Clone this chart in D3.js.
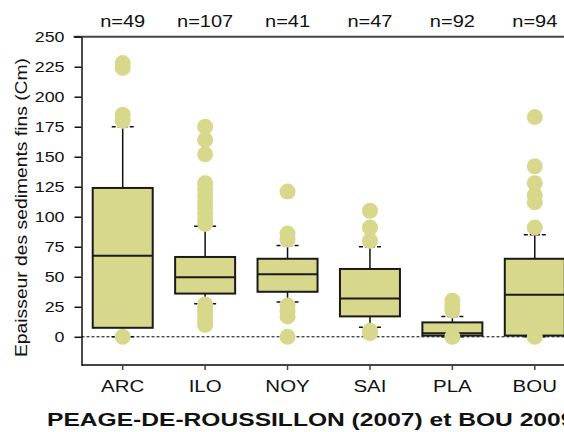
<!DOCTYPE html>
<html><head><meta charset="utf-8">
<script src="https://cdn.jsdelivr.net/npm/d3@7"></script>
<style>html,body{margin:0;padding:0;background:#fff;}svg{display:block;}</style>
</head><body>
<script>
const categories = ["ARC","ILO","NOY","SAI","PLA","BOU"];
const counts = [49,107,41,47,92,94];
const whiskerLow = [0, 27.5, 29, 8, 0, 0];
const q1 = [7.5, 36, 37.5, 17, 1, 1];
const median = [67.5, 49.5, 52, 32, 3, 35];
const q3 = [124, 66.5, 65, 56.5, 12, 65];
const whiskerHigh = [175, 92, 76, 75, 17, 85];
const outliers = [
  [0, 180, 185, 224, 228],
  [10, 13, 17, 21, 25, 27, 94, 98, 103, 108, 113, 118, 123, 128, 152, 164, 175],
  [0, 17, 21, 26, 81, 86, 121],
  [3, 5, 80, 91, 105],
  [0, 22, 26, 30],
  [0, 91, 112, 118, 128, 142, 183]
];
const yTicks = [0, 25, 50, 75, 100, 125, 150, 175, 200, 225, 250];
const yLabel = "Epaisseur des sediments fins (Cm)";
const title = "PEAGE-DE-ROUSSILLON (2007) et BOU 2009";

const W = 564, H = 432;
const fill = "#d7d88b";
const svg = d3.select("body").append("svg").attr("width", W).attr("height", H)
  .style("font-family", "'Liberation Sans', Arial, sans-serif");

const plotLeft = 81.5, plotTop = 36.7, plotBottom = 365;
const x = d3.scaleBand().domain(categories).range([plotLeft, 576]);
const y = d3.scaleLinear().domain([-23.5, 250]).range([plotBottom, plotTop]);
const boxW = 60, capW = 22;

// frame lines
svg.append("line").attr("x1", plotLeft - 8).attr("x2", W).attr("y1", y(250)).attr("y2", y(250))
  .attr("stroke", "#444").attr("stroke-width", 2);
svg.append("line").attr("x1", plotLeft).attr("x2", W).attr("y1", plotBottom).attr("y2", plotBottom)
  .attr("stroke", "#444").attr("stroke-width", 2);

// y axis
const ya = svg.append("g").attr("transform", `translate(${plotLeft},0)`)
  .call(d3.axisLeft(y).tickValues(yTicks).tickSize(7).tickSizeOuter(0));
ya.select(".domain").attr("stroke", "#111").attr("stroke-width", 1.5);
ya.selectAll(".tick line").attr("stroke", "#111").attr("stroke-width", 1.5);
ya.selectAll(".tick text").attr("x", 0).attr("fill", "#111").style("font-size", "15.5px")
  .attr("transform", "translate(-17,0) scale(1.15,1)");

// x axis
const xa = svg.append("g").attr("transform", `translate(0,${plotBottom})`)
  .call(d3.axisBottom(x).tickSize(5).tickSizeOuter(0));
xa.select(".domain").remove();
xa.selectAll(".tick line").attr("stroke", "#444").attr("stroke-width", 1.5);
xa.selectAll(".tick text").attr("y", 0).attr("dy", 0).attr("fill", "#111").style("font-size", "16px")
  .attr("transform", "translate(0,27) scale(1.28,1)");

// zero reference line
svg.append("line").attr("x1", plotLeft).attr("x2", W).attr("y1", y(0)).attr("y2", y(0))
  .attr("stroke", "#000").attr("stroke-width", 1).attr("stroke-dasharray", "3,2");

const data = categories.map((c, i) => ({
  c, lo: whiskerLow[i], q1: q1[i], med: median[i], q3: q3[i], hi: whiskerHigh[i], out: outliers[i], n: counts[i]
}));
const cx = d => x(d.c) + x.bandwidth() / 2;

const g = svg.append("g").selectAll("g").data(data).join("g");
// whiskers
g.append("line").attr("x1", cx).attr("x2", cx).attr("y1", d => y(d.q3)).attr("y2", d => y(d.hi))
  .attr("stroke", "#111").attr("stroke-width", 1.5);
g.append("line").attr("x1", cx).attr("x2", cx).attr("y1", d => y(d.q1)).attr("y2", d => y(d.lo))
  .attr("stroke", "#111").attr("stroke-width", 1.5);
g.append("line").attr("x1", d => cx(d) - capW / 2).attr("x2", d => cx(d) + capW / 2)
  .attr("y1", d => y(d.hi)).attr("y2", d => y(d.hi)).attr("stroke", "#111").attr("stroke-width", 1.5)
  .attr("stroke-dasharray", "4,2");
g.append("line").attr("x1", d => cx(d) - capW / 2).attr("x2", d => cx(d) + capW / 2)
  .attr("y1", d => y(d.lo)).attr("y2", d => y(d.lo)).attr("stroke", "#111").attr("stroke-width", 1.5)
  .attr("stroke-dasharray", "4,2");
// boxes
g.append("rect").attr("x", d => cx(d) - boxW / 2).attr("width", boxW)
  .attr("y", d => y(d.q3)).attr("height", d => y(d.q1) - y(d.q3))
  .attr("fill", fill).attr("stroke", "#1a1a1a").attr("stroke-width", 2);
g.append("line").attr("x1", d => cx(d) - boxW / 2).attr("x2", d => cx(d) + boxW / 2)
  .attr("y1", d => y(d.med)).attr("y2", d => y(d.med)).attr("stroke", "#1a1a1a").attr("stroke-width", 2);
// outliers
g.selectAll("circle").data(d => d.out.map(v => ({ v, cx: cx(d) }))).join("circle")
  .attr("cx", d => d.cx).attr("cy", d => y(d.v)).attr("r", 8).attr("fill", fill);

// n labels
svg.append("g").selectAll("text").data(data).join("text")
  .attr("transform", d => `translate(${cx(d)},27) scale(1.25,1)`)
  .attr("text-anchor", "middle").style("font-size", "16px").attr("fill", "#111")
  .text(d => "n=" + d.n);

// y label
svg.append("text").attr("transform", "translate(26.5,207.5) rotate(-90) scale(1.17,1)")
  .attr("text-anchor", "middle").style("font-size", "16.5px").attr("fill", "#111").text(yLabel);

// title
svg.append("text").attr("transform", "translate(47,426) scale(1.33,1)")
  .attr("text-anchor", "start").style("font-size", "18.5px").style("font-weight", "bold")
  .attr("fill", "#111").text(title);
</script>
</body></html>
